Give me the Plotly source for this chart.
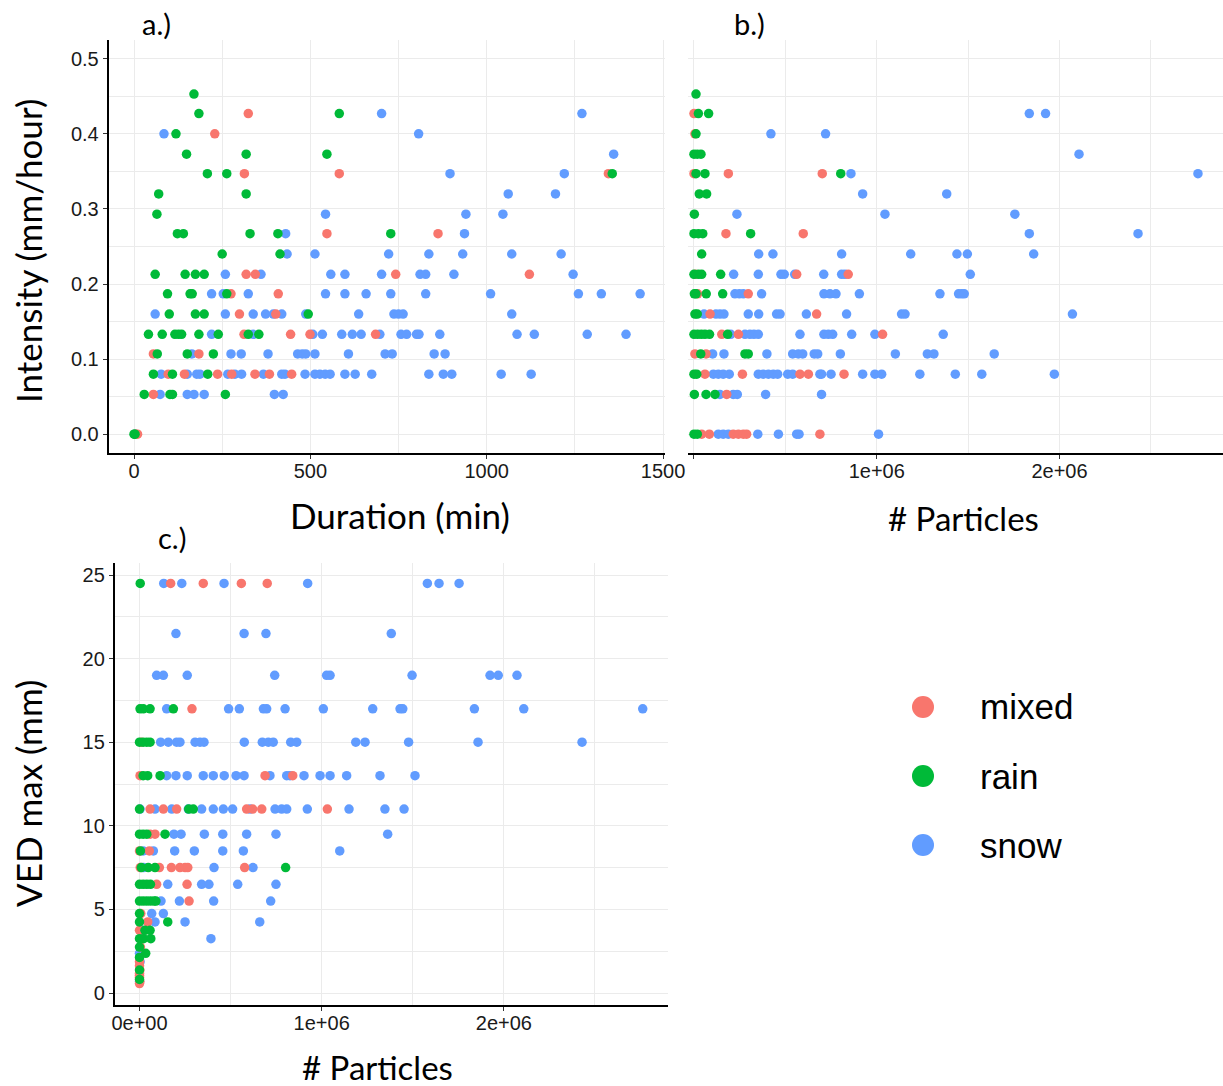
import plotly.graph_objects as go

W, H = 1223, 1086

classes = ["mixed", "rain", "snow"]
colors = {"mixed": "#F8766D", "rain": "#00BA38", "snow": "#619CFF"}
draw_order = ["snow", "mixed", "rain"]

# ---- Panel a: event duration (min), grouped by rain intensity (mm/hour) ----
dur_mixed = {
    0.427: [324], 0.400: [229], 0.347: [313, 582, 1345], 0.267: [547, 862],
    0.213: [318, 344, 742, 1121], 0.187: [275, 409], 0.160: [299, 402],
    0.133: [312, 444, 499, 685], 0.107: [55, 184],
    0.080: [97, 143, 237, 277, 343, 384, 447], 0.053: [55], 0.0: [5, 10],
}
dur_rain = {
    0.453: [170], 0.427: [184, 582], 0.400: [119], 0.373: [149, 318, 547],
    0.347: [208, 263, 1356], 0.320: [70, 318], 0.293: [65],
    0.267: [123, 140, 329, 408, 728], 0.240: [250, 414],
    0.213: [60, 145, 174, 199], 0.187: [95, 159, 165, 263],
    0.160: [100, 174, 199, 494], 0.133: [41, 80, 116, 126, 135, 184, 239, 324, 354],
    0.107: [66, 151, 225], 0.080: [55, 109, 209], 0.053: [29, 102, 109, 259],
    0.0: [0, 3],
}
dur_snow = {
    0.427: [702, 1270], 0.400: [85, 807], 0.373: [1360], 0.347: [896, 1220],
    0.320: [1061, 1195], 0.293: [543, 941, 1046], 0.267: [430, 937],
    0.240: [434, 513, 722, 836, 932, 1071, 1211],
    0.213: [259, 360, 558, 598, 702, 811, 827, 907, 1245],
    0.187: [220, 253, 324, 543, 598, 658, 728, 827, 1011, 1260, 1325, 1435],
    0.160: [60, 259, 338, 373, 395, 419, 487, 637, 737, 750, 763, 1071],
    0.133: [220, 338, 507, 534, 589, 619, 644, 697, 757, 773, 801, 808, 867,
            1086, 1135, 1285, 1395],
    0.107: [164, 275, 304, 380, 464, 477, 487, 513, 608, 712, 732, 851, 882],
    0.080: [77, 151, 178, 187, 266, 286, 305, 367, 419, 428, 485, 513, 527,
            542, 556, 598, 627, 674, 836, 877, 901, 1041, 1126],
    0.053: [74, 151, 170, 199, 398, 423], 0.0: [2],
}

# ---- Panel b: number of particles (millions), grouped by intensity ----
npart_int_mixed = {
    0.427: [0.0], 0.400: [0.005], 0.347: [0.0, 0.188, 0.702], 0.267: [0.175, 0.598],
    0.213: [0.007, 0.562, 0.844], 0.187: [0.02, 0.297], 0.160: [0.088, 0.671],
    0.133: [0.152, 0.243, 1.032], 0.107: [0.005, 0.066],
    0.080: [0.060, 0.265, 0.580, 0.626, 0.821], 0.053: [0.179],
    0.0: [0.042, 0.084, 0.215, 0.243, 0.270, 0.288, 0.689],
}
npart_int_rain = {
    0.453: [0.011], 0.427: [0.024, 0.080], 0.400: [0.011], 0.373: [0.0, 0.018, 0.038],
    0.347: [0.011, 0.060, 0.803], 0.320: [0.029, 0.069], 0.293: [0.002],
    0.267: [0.0, 0.024, 0.048, 0.310], 0.240: [0.042],
    0.213: [0.0, 0.024, 0.042, 0.146], 0.187: [0.002, 0.011, 0.067, 0.157],
    0.160: [0.005, 0.018], 0.133: [0.0, 0.02, 0.04, 0.06, 0.085, 0.184],
    0.107: [0.037, 0.279, 0.297], 0.080: [0.0, 0.015], 0.053: [0.002, 0.066, 0.115],
    0.0: [0.0, 0.018],
}
npart_int_snow = {
    0.427: [1.835, 1.924], 0.400: [0.421, 0.720], 0.373: [2.107], 0.347: [0.859, 2.758],
    0.320: [0.923, 1.383], 0.293: [0.235, 1.045, 1.756], 0.267: [1.835, 2.430],
    0.240: [0.354, 0.432, 0.808, 1.186, 1.439, 1.496, 1.859],
    0.213: [0.217, 0.352, 0.476, 0.494, 0.551, 0.710, 0.808, 0.826, 1.512],
    0.187: [0.224, 0.248, 0.270, 0.370, 0.711, 0.744, 0.777, 0.905, 1.346, 1.448,
            1.465, 1.479],
    0.160: [0.055, 0.120, 0.142, 0.164, 0.297, 0.354, 0.452, 0.471, 0.615, 0.835,
            1.136, 1.155, 2.071],
    0.133: [0.201, 0.279, 0.306, 0.328, 0.352, 0.580, 0.711, 0.735, 0.759, 0.863,
            0.990, 1.364],
    0.107: [0.102, 0.164, 0.399, 0.540, 0.571, 0.595, 0.658, 0.677, 0.801, 1.102,
            1.277, 1.313, 1.643],
    0.080: [0.106, 0.133, 0.160, 0.193, 0.352, 0.379, 0.407, 0.434, 0.458, 0.513,
            0.540, 0.689, 0.698, 0.750, 0.923, 0.990, 1.027, 1.236, 1.430, 1.575,
            1.972],
    0.053: [0.142, 0.215, 0.237, 0.392, 0.698],
    0.0: [0.133, 0.160, 0.188, 0.349, 0.462, 0.562, 0.575, 1.010],
}

# ---- Panel c: number of particles (millions), grouped by max VED (mm) ----
npart_ved_mixed = {
    24.5: [0.171, 0.350, 0.559, 0.701], 17: [0.288], 15: [0.01],
    13: [0.003, 0.689, 0.841], 11: [0.058, 0.131, 0.204, 0.588, 0.621, 0.671, 1.031],
    9.5: [0.058, 0.085], 8.5: [0.0, 0.054],
    7.5: [0.004, 0.109, 0.175, 0.222, 0.250, 0.265, 0.577], 6.5: [0.094, 0.261],
    5.5: [0.272], 4.75: [0.007], 4.25: [0.045], 3.75: [0.0], 3.25: [0.01],
    2.75: [0.005], 1.875: [0.0], 1.625: [0.0], 1.375: [0.002], 1.187: [0.0],
    1.062: [0.0], 0.937: [0.0], 0.687: [0.002], 0.562: [0.0],
}
npart_ved_rain = {
    24.5: [0.004], 17: [0.003, 0.021, 0.058, 0.186], 15: [0.0, 0.02, 0.04, 0.058],
    13: [0.02, 0.045, 0.113], 11: [0.0, 0.27, 0.295], 9.5: [0.0, 0.02, 0.04, 0.14],
    8.5: [0.005], 7.5: [0.01, 0.048, 0.085, 0.802], 6.5: [0.0, 0.02, 0.04, 0.06],
    5.5: [0.0, 0.02, 0.04, 0.06, 0.08, 0.09], 4.75: [0.0], 4.25: [0.0, 0.155],
    3.75: [0.03, 0.058], 3.25: [0.0, 0.022, 0.062], 2.75: [0.0], 2.375: [0.034],
    2.125: [0.0], 1.375: [0.0], 0.812: [0.0],
}
npart_ved_snow = {
    24.5: [0.133, 0.232, 0.464, 0.923, 1.580, 1.644, 1.754],
    21.5: [0.200, 0.574, 0.694, 1.382],
    19: [0.094, 0.131, 0.262, 0.742, 1.027, 1.046, 1.496, 1.924, 1.969, 2.072],
    17: [0.149, 0.489, 0.548, 0.680, 0.698, 0.799, 1.009, 1.280, 1.430, 1.445,
         1.838, 2.109, 2.762],
    15: [0.116, 0.158, 0.204, 0.222, 0.305, 0.332, 0.354, 0.575, 0.674, 0.707,
         0.734, 0.830, 0.863, 1.187, 1.238, 1.477, 1.858, 2.429],
    13: [0.149, 0.200, 0.262, 0.350, 0.405, 0.465, 0.530, 0.574, 0.716, 0.808,
         0.826, 0.903, 0.991, 1.046, 1.137, 1.320, 1.512],
    11: [0.003, 0.085, 0.177, 0.268, 0.341, 0.405, 0.460, 0.511, 0.606, 0.744,
         0.780, 0.808, 0.921, 1.150, 1.347, 1.452],
    9.5: [0.189, 0.228, 0.356, 0.457, 0.588, 0.749, 1.362],
    8.5: [0.02, 0.076, 0.193, 0.301, 0.457, 0.570, 1.099],
    7.5: [0.022, 0.409, 0.623], 6.5: [0.155, 0.341, 0.381, 0.539, 0.749],
    5.5: [0.118, 0.219, 0.407, 0.720], 4.75: [0.067, 0.131],
    4.25: [0.085, 0.250, 0.660], 3.75: [0.015], 3.25: [0.392], 2.375: [0.0],
    1.875: [0.003], 0.687: [0.0],
}

panel_a = {"mixed": dur_mixed, "rain": dur_rain, "snow": dur_snow}
panel_b = {"mixed": npart_int_mixed, "rain": npart_int_rain, "snow": npart_int_snow}
panel_c = {"mixed": npart_ved_mixed, "rain": npart_ved_rain, "snow": npart_ved_snow}

int_ticks = [0.0, 0.1, 0.2, 0.3, 0.4, 0.5]
dur_ticks = [0, 500, 1000, 1500]
part_ticks = [0, 1e6, 2e6]
part_ticktext_b = ["", "1e+06", "2e+06"]
part_ticktext_c = ["0e+00", "1e+06", "2e+06"]
ved_ticks = [0, 5, 10, 15, 20, 25]

legend_labels = classes


def flatten(groups, scale=1.0):
    xs, ys = [], []
    for level, vals in groups.items():
        for v in vals:
            xs.append(v * scale)
            ys.append(level)
    return xs, ys


def px(x):
    return x / W


def py(y):
    return 1 - y / H


fig = go.Figure()
MSIZE = 9.5

for cls in draw_order:
    for (groups, scale, xa, ya) in ((panel_a[cls], 1.0, "x", "y"),
                                    (panel_b[cls], 1e6, "x2", "y2"),
                                    (panel_c[cls], 1e6, "x3", "y3")):
        xs, ys = flatten(groups, scale)
        fig.add_trace(go.Scatter(x=xs, y=ys, mode="markers", xaxis=xa, yaxis=ya,
                                 marker=dict(size=MSIZE, color=colors[cls],
                                             line=dict(width=0)),
                                 name=cls, showlegend=False))

GRID = "#EBEBEB"
TICKFONT = dict(family="Liberation Sans, Arial, sans-serif", size=20, color="#1a1a1a")

common = dict(showgrid=True, gridcolor=GRID, gridwidth=1.3, zeroline=False,
              automargin=False, tickfont=TICKFONT, ticklen=4, tickwidth=1.2,
              tickcolor="#333333")
xcommon = dict(common, ticklabelstandoff=-5)


def minor(t0, dt):
    return dict(tickmode="linear", tick0=t0, dtick=dt, showgrid=True,
                gridcolor=GRID, gridwidth=1.0, ticks="")


fig.update_layout(
    width=W, height=H, margin=dict(l=0, r=0, t=0, b=0, pad=0), autosize=False,
    paper_bgcolor="white", plot_bgcolor="rgba(0,0,0,0)", showlegend=False,
    xaxis=dict(domain=[px(108.5), px(665)], range=[-72.3, 1505.5], anchor="y",
               tickmode="array", tickvals=dur_ticks, ticks="outside",
               showline=True, linecolor="black", linewidth=1.5,
               minor=minor(250, 500), **xcommon),
    yaxis=dict(domain=[py(453), py(40)], range=[-0.025, 0.525], anchor="x",
               tickmode="array", tickvals=int_ticks,
               ticktext=[f"{v:.1f}" for v in int_ticks], ticks="outside",
               showline=True, linecolor="black", linewidth=1.5,
               minor=minor(0.05, 0.1), **common),
    xaxis2=dict(domain=[px(688), 1.0], range=[-0.0328e6, 2.895e6], anchor="y2",
                tickmode="array", tickvals=part_ticks, ticktext=part_ticktext_b,
                ticks="outside", showline=True, linecolor="black", linewidth=1.5,
                minor=minor(0.5e6, 1e6), **xcommon),
    yaxis2=dict(domain=[py(453), py(40)], range=[-0.025, 0.525], anchor="x2",
                tickmode="array", tickvals=int_ticks, showticklabels=False, ticks="",
                showline=False, minor=minor(0.05, 0.1), **common),
    xaxis3=dict(domain=[px(114.6), px(668)], range=[-0.1367e6, 2.9007e6], anchor="y3",
                tickmode="array", tickvals=part_ticks, ticktext=part_ticktext_c,
                ticks="outside", showline=True, linecolor="black", linewidth=1.5,
                minor=minor(0.5e6, 1e6), **xcommon),
    yaxis3=dict(domain=[py(1005), py(563)], range=[-0.718, 25.72], anchor="x3",
                tickmode="array", tickvals=ved_ticks, ticks="outside",
                showline=True, linecolor="black", linewidth=1.5,
                minor=minor(2.5, 5), **common),
)

TITLE_SANS = "Liberation Sans, Arial, sans-serif"
TITLE_HUM = "Lato, Open Sans, sans-serif"


def label(text, x, y, size, family, angle=0, xanchor="center"):
    fig.add_annotation(text=text, x=px(x), y=py(y), xref="paper", yref="paper",
                       showarrow=False, textangle=angle, xanchor=xanchor,
                       yanchor="middle",
                       font=dict(family=family, size=size, color="black"))


label("a.)", 156, 24, 29, TITLE_HUM)
label("b.)", 749, 23, 29, TITLE_HUM)
label("c.)", 172, 537, 29, TITLE_HUM)

label("Intensity (mm/hour)", 28, 251, 35, TITLE_HUM, angle=-90)
label("Duration (min)", 400, 515, 35, TITLE_HUM)
label("# Particles", 963, 518, 33, TITLE_HUM)
label("VED max (mm)", 28, 794, 35, TITLE_HUM, angle=-90)
label("# Particles", 377, 1067, 33, TITLE_HUM)

# Key: large dots with class names
leg_x0, leg_y0, leg_dy, leg_r = 923, 707, 69, 11
for i, name in enumerate(legend_labels):
    cy = leg_y0 + i * leg_dy
    fig.add_shape(type="circle", xref="paper", yref="paper",
                  x0=px(leg_x0 - leg_r), x1=px(leg_x0 + leg_r),
                  y0=py(cy + leg_r), y1=py(cy - leg_r),
                  fillcolor=colors[name], line=dict(width=0))
    label(name, 978, cy, 35, TITLE_SANS, xanchor="left")

fig.write_html(
    "out.html",
    config={"responsive": False},
    post_script="document.body.style.margin='0';"
                "document.body.style.overflow='hidden';",
)
